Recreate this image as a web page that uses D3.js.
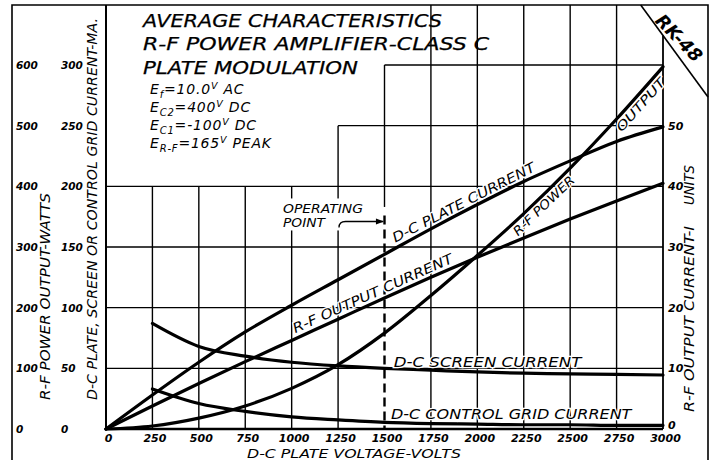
<!DOCTYPE html>
<html>
<head>
<meta charset="utf-8">
<script src="https://cdn.jsdelivr.net/npm/d3@7"></script>
<style>
  body { margin: 0; background: #fff; }
  svg { display: block; font-family: "DejaVu Sans", sans-serif; font-style: italic; }
</style>
</head>
<body>
<script>
// values
const volts = [0, 250, 500, 750, 1000, 1250, 1500, 1750, 2000, 2250, 2500, 2750, 3000];
const plateCurrent = [0, 28, 55, 80, 102, 123, 144, 165, 185, 204, 221, 237, 249];        // mA
const rfCurrent = [0, 3.8, 7.5, 11.1, 14.6, 18.1, 21.6, 25.0, 28.3, 31.5, 34.6, 37.6, 40.5]; // units
const rfPower = [0, 5, 18, 38, 67, 106, 158, 220, 286, 355, 430, 511, 597];              // watts
const screenVolts = [250, 500, 750, 1000, 1250, 1500, 1750, 2000, 2250, 2500, 2750, 3000];
const screenCurrent = [87, 68, 60, 55, 52, 50, 48.5, 47, 46, 45.5, 45, 44.5];              // mA
const gridCurrent = [33, 21, 14.5, 10, 7.5, 5.5, 4.5, 4, 3.5, 3.5, 3, 3];                   // mA

const voltTicks = [0, 250, 500, 750, 1000, 1250, 1500, 1750, 2000, 2250, 2500, 2750, 3000];
const maTicks = [0, 50, 100, 150, 200, 250, 300];
const wattTicks = [0, 100, 200, 300, 400, 500, 600];
const unitTicks = [0, 10, 20, 30, 40, 50];

const titleLines = ["AVERAGE CHARACTERISTICS", "R-F POWER AMPLIFIER-CLASS C", "PLATE MODULATION"];
const params = [
  ["f", "=10.0", " AC"],
  ["C2", "=400", " DC"],
  ["C1", "=-100", " DC"],
  ["R-F", "=165", " PEAK"]
];

const width = 714, height = 460;
const frame = {left: 12, top: 5, right: 708};

const x = d3.scaleLinear().domain([0, 3000]).range([106, 663]);
const yMa = d3.scaleLinear().domain([0, 300]).range([429, 65]);
const yW = d3.scaleLinear().domain([0, 600]).range([429, 65]);
const yU = d3.scaleLinear().domain([0, 60]).range([429, 65]);

const svg = d3.select("body").append("svg")
  .attr("width", width)
  .attr("height", height)
  .attr("viewBox", [0, 0, width, height]);

svg.append("rect").attr("width", width).attr("height", height).attr("fill", "#fff");

// outer frame with the cut corner
const cut = [x(2880), frame.top];
const cutEnd = [frame.right, 97];
svg.append("path")
  .attr("d", `M${frame.left},${height} V${frame.top} H${frame.right} V${height}`)
  .attr("fill", "none").attr("stroke", "#000").attr("stroke-width", 1.6);
svg.append("line")
  .attr("x1", cut[0]).attr("y1", cut[1]).attr("x2", cutEnd[0]).attr("y2", cutEnd[1])
  .attr("stroke", "#000").attr("stroke-width", 1.6);

const grid = svg.append("g").attr("stroke", "#000").attr("stroke-width", 1.4).attr("fill", "none");

// horizontal grid (stepped top)
maTicks.filter(d => d > 0).forEach(d => {
  const start = d === 250 ? 1250 : d === 300 ? 1500 : 0;
  grid.append("line")
    .attr("x1", x(start)).attr("x2", x(3000))
    .attr("y1", yMa(d)).attr("y2", yMa(d));
});

// vertical grid
const diagY = xx => cut[1] + (xx - cut[0]) * (cutEnd[1] - cut[1]) / (cutEnd[0] - cut[0]);
voltTicks.filter(d => d > 0).forEach(d => {
  let top;
  if (d < 1250) top = yMa(200);
  else if (d === 1250) top = yMa(250);
  else if (d === 1500) top = yMa(300);
  else if (d === 3000) top = diagY(x(3000));
  else top = frame.top;
  if (d === 1500) {
    grid.append("line").attr("x1", x(d)).attr("x2", x(d)).attr("y1", top).attr("y2", yMa(183));
    grid.append("line").attr("x1", x(d)).attr("x2", x(d)).attr("y1", yMa(176)).attr("y2", yMa(0))
      .attr("stroke-width", 2.4).attr("stroke-dasharray", "9,5");
  } else {
    grid.append("line").attr("x1", x(d)).attr("x2", x(d)).attr("y1", top).attr("y2", yMa(0))
      .attr("stroke-width", d === 3000 ? 1.8 : 1.4);
  }
});

// axis lines
svg.append("line").attr("x1", x(0)).attr("x2", x(0)).attr("y1", frame.top).attr("y2", yMa(0))
  .attr("stroke", "#000").attr("stroke-width", 2);
svg.append("line").attr("x1", x(0)).attr("x2", x(3000)).attr("y1", yMa(0)).attr("y2", yMa(0))
  .attr("stroke", "#000").attr("stroke-width", 2.6);

// operating point note (blank out grid behind it)
svg.append("rect").attr("x", 280).attr("y", yMa(190)).attr("width", 86).attr("height", 32).attr("fill", "#fff");
svg.append("text").attr("x", 283).attr("y", 213).attr("font-size", 11.5)
  .attr("textLength", 80).attr("lengthAdjust", "spacingAndGlyphs").text("OPERATING");
svg.append("text").attr("x", 283).attr("y", 227).attr("font-size", 11.5)
  .attr("textLength", 42).attr("lengthAdjust", "spacingAndGlyphs").text("POINT");
svg.append("path")
  .attr("d", `M${x(1255)},${yMa(166)} Q${x(1255)},${yMa(171)} ${x(1290)},${yMa(171)} H${x(1492)}`)
  .attr("fill", "none").attr("stroke", "#000").attr("stroke-width", 1.3);
svg.append("path")
  .attr("d", `M${x(1497)},${yMa(171)} l-8,-3 v6 z`)
  .attr("fill", "#000");

// curves
const line = (xs, ys, yScale) => d3.line().curve(d3.curveMonotoneX)(xs.map((v, i) => [x(v), yScale(ys[i])]));
const curves = [
  [volts, plateCurrent, yMa],
  [volts, rfCurrent, yU],
  [volts, rfPower, yW],
  [screenVolts, screenCurrent, yMa],
  [screenVolts, gridCurrent, yMa]
];
svg.append("g")
  .selectAll("path")
  .data(curves)
  .join("path")
  .attr("d", d => line(d[0], d[1], d[2]))
  .attr("fill", "none")
  .attr("stroke", "#000")
  .attr("stroke-width", 3.2)
  .attr("stroke-linecap", "round");

// labels on curves
const curveLabel = (txt, v0, v1, xs, ys, yScale, dy, size) => {
  const f = d3.scaleLinear(xs, ys);
  const p0 = [x(v0), yScale(f(v0))];
  const p1 = [x(v1), yScale(f(v1))];
  const ang = Math.atan2(p1[1] - p0[1], p1[0] - p0[0]) * 180 / Math.PI;
  const len = Math.hypot(p1[0] - p0[0], p1[1] - p0[1]);
  svg.append("text")
    .attr("transform", `translate(${p0[0]},${p0[1]}) rotate(${ang})`)
    .attr("y", dy)
    .attr("font-size", size)
    .attr("textLength", len)
    .attr("lengthAdjust", "spacingAndGlyphs")
    .attr("stroke", "#fff").attr("stroke-width", 2.5).attr("paint-order", "stroke")
    .text(txt);
};
curveLabel("D-C PLATE CURRENT", 1570, 2330, volts, plateCurrent, yMa, -5, 13.5);
curveLabel("R-F OUTPUT CURRENT", 1030, 1885, volts, rfCurrent, yU, -5, 13.5);
curveLabel("R-F POWER", 2170, 2480, volts, rfPower, yW, 13, 12.5);
curveLabel("OUTPUT", 2725, 2965, volts, rfPower, yW, 13, 12.5);

const flatLabel = (txt, v0, v1, yy, size) => {
  svg.append("text")
    .attr("x", x(v0)).attr("y", yy)
    .attr("font-size", size)
    .attr("textLength", x(v1) - x(v0))
    .attr("lengthAdjust", "spacingAndGlyphs")
    .attr("stroke", "#fff").attr("stroke-width", 2.5).attr("paint-order", "stroke")
    .text(txt);
};
flatLabel("D-C SCREEN CURRENT", 1550, 2560, yMa(50) - 1, 14);
flatLabel("D-C CONTROL GRID CURRENT", 1535, 2830, yMa(8.5), 14);

// title block
const titleBase = [27, 50, 74];
const titleLen = [299, 346, 215];
titleLines.forEach((t, i) => {
  svg.append("text")
    .attr("x", 143).attr("y", titleBase[i])
    .attr("font-size", 17.5)
    .attr("stroke", "#000").attr("stroke-width", 0.25)
    .attr("textLength", titleLen[i])
    .attr("lengthAdjust", "spacingAndGlyphs")
    .text(t);
});

params.forEach((p, i) => {
  const t = svg.append("text").attr("x", 150).attr("y", 94 + i * 18)
    .attr("font-size", 14).attr("letter-spacing", 0.8);
  t.append("tspan").text("E");
  t.append("tspan").attr("dy", 4).attr("font-size", 10).text(p[0]);
  t.append("tspan").attr("dy", -4).text(p[1]);
  t.append("tspan").attr("dy", -5).attr("font-size", 9.5).text("V");
  t.append("tspan").attr("dy", 5).text(p[2]);
});

// tick labels through axes
const styleAxis = size => g => {
  g.select(".domain").remove();
  g.selectAll("text").attr("font-size", size).attr("font-weight", "bold")
    .attr("font-family", "\"DejaVu Sans\", sans-serif").attr("font-style", "italic");
};
svg.append("g").attr("transform", "translate(16,0)")
  .call(d3.axisRight(yW).tickValues(wattTicks).tickSize(0).tickPadding(0))
  .call(styleAxis(10.5));
svg.append("g").attr("transform", "translate(61,0)")
  .call(d3.axisRight(yMa).tickValues(maTicks).tickSize(0).tickPadding(0))
  .call(styleAxis(10.5));
svg.append("g").attr("transform", `translate(2,${yMa(0)})`)
  .call(d3.axisBottom(x).tickValues(voltTicks).tickSize(0).tickPadding(5).tickFormat(d3.format("d")))
  .call(styleAxis(11));
const rightAxis = svg.append("g").attr("transform", `translate(${x(3000)},0)`)
  .call(d3.axisRight(yU).tickValues(unitTicks).tickSize(0).tickPadding(5))
  .call(styleAxis(11));
rightAxis.selectAll(".tick").filter(d => d === 0).select("text").attr("dy", "-0.05em");

// axis titles
const vTitle = (txt, cx, top, bottom, size) => {
  svg.append("text")
    .attr("transform", `translate(${cx},${(top + bottom) / 2}) rotate(-90)`)
    .attr("text-anchor", "middle")
    .attr("font-size", size)
    .attr("textLength", bottom - top)
    .attr("lengthAdjust", "spacingAndGlyphs")
    .text(txt);
};
vTitle("R-F POWER OUTPUT-WATTS", 50, 193, 400, 13.5);
vTitle("D-C PLATE, SCREEN OR CONTROL GRID CURRENT-MA.", 97, 18, 400, 13.5);
vTitle("R-F OUTPUT CURRENT-I", 694, 226, 412, 13.5);
vTitle("UNITS", 694, 165, 205, 13.5);

svg.append("text")
  .attr("x", 247).attr("y", 458)
  .attr("font-size", 13)
  .attr("textLength", 214)
  .attr("lengthAdjust", "spacingAndGlyphs")
  .text("D-C PLATE VOLTAGE-VOLTS");

// tube type in the corner
svg.append("text")
  .attr("transform", "translate(679,38) rotate(46)")
  .attr("text-anchor", "middle")
  .attr("dy", "0.35em")
  .attr("font-size", 18)
  .attr("font-weight", "bold")
  .text("RK-48");
</script>
</body>
</html>
